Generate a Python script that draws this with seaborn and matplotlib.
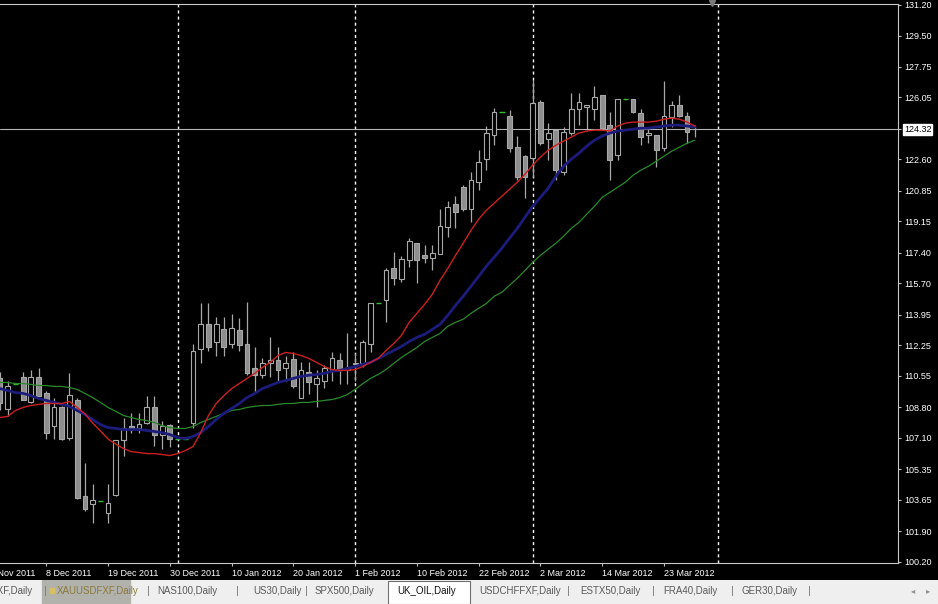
import numpy as np
import pandas as pd
import matplotlib
matplotlib.use("Agg")
import matplotlib.pyplot as plt
from matplotlib.patches import Rectangle
import seaborn as sns

# --- UK_OIL daily candles (bar 0 = left edge of chart) ---
opens = [110.41, 108.73, 110.07, 110.46, 109.07, 110.46, 109.62, 107.78, 108.79, 107.11,
         109.23, 103.88, 103.43, 103.60, 102.93, 103.94, 106.95, 107.78, 107.62, 107.95,
         108.79, 107.28, 107.84, 107.06, 107.06, 107.95, 112.02, 113.42, 112.41, 113.14,
         112.35, 113.08, 112.35, 110.96, 110.58, 111.24, 111.41, 110.96, 111.47, 109.34,
         110.74, 110.12, 110.29, 110.85, 111.41, 110.85, 111.19, 111.24, 112.35, 114.58,
         114.75, 116.53, 115.92, 116.98, 117.93, 117.26, 117.09, 117.32, 118.83, 120.11,
         121.05, 119.83, 121.33, 122.61, 123.95, 125.23, 125.01, 123.28, 122.78, 122.67,
         125.79, 123.73, 124.23, 121.89, 124.07, 125.40, 125.51, 125.40, 126.18, 124.51,
         122.84, 125.96, 125.96, 125.17, 123.95, 123.95, 123.22, 124.96, 125.62, 125.01,
         124.28]
highs = [110.74, 110.29, 110.07, 110.74, 110.85, 110.96, 109.68, 109.29, 108.85, 110.69,
         109.29, 105.72, 104.55, 103.60, 104.55, 107.00, 108.18, 108.46, 108.46, 109.45,
         109.45, 108.01, 107.89, 107.06, 107.06, 112.35, 114.58, 114.58, 113.80, 113.80,
         113.97, 113.75, 114.64, 112.13, 111.52, 112.69, 112.13, 111.68, 111.85, 111.30,
         111.30, 110.90, 111.13, 111.85, 111.80, 112.92, 111.80, 112.52, 114.58, 114.58,
         116.53, 117.43, 117.21, 118.21, 117.93, 117.82, 117.82, 119.83, 120.27, 120.55,
         121.16, 121.89, 123.11, 124.46, 125.45, 125.23, 125.34, 123.90, 122.84, 127.02,
         125.90, 124.62, 124.23, 124.40, 126.30, 126.30, 125.62, 126.68, 126.18, 125.23,
         125.96, 125.96, 125.96, 125.40, 124.40, 123.95, 126.96, 125.84, 126.18, 125.23,
         124.51]
lows = [108.62, 108.34, 110.07, 109.18, 109.01, 109.40, 107.06, 107.06, 106.95, 106.95,
        103.71, 103.04, 102.38, 103.60, 102.33, 103.88, 106.11, 107.39, 107.34, 107.89,
        106.67, 106.45, 106.56, 107.06, 107.06, 107.67, 111.24, 111.96, 111.68, 111.68,
        112.08, 111.96, 110.58, 109.62, 110.41, 110.46, 110.29, 110.29, 109.90, 109.34,
        109.56, 108.79, 109.90, 110.29, 110.12, 110.12, 110.29, 111.02, 111.85, 114.58,
        113.53, 115.59, 115.76, 116.59, 115.70, 116.81, 116.42, 117.32, 118.27, 118.76,
        119.72, 119.10, 120.89, 122.00, 123.39, 125.23, 122.99, 121.44, 120.44, 121.61,
        123.39, 122.56, 121.44, 121.72, 123.95, 124.51, 124.23, 124.79, 124.23, 121.44,
        122.56, 125.96, 125.17, 123.39, 123.50, 122.17, 123.06, 124.40, 124.96, 123.50,
        123.84]
closes = [109.01, 110.01, 110.07, 109.23, 110.46, 109.45, 107.34, 108.79, 107.06, 109.51,
          103.77, 103.15, 103.66, 103.60, 103.49, 107.00, 107.67, 107.62, 107.89, 108.79,
          107.28, 107.73, 107.06, 107.06, 107.06, 111.96, 113.42, 112.13, 113.42, 112.13,
          113.20, 112.24, 110.69, 110.58, 111.24, 111.41, 110.85, 111.24, 110.01, 110.85,
          110.18, 110.41, 110.96, 111.57, 110.85, 110.96, 111.24, 112.41, 114.58, 114.58,
          116.42, 115.98, 117.04, 118.04, 116.98, 117.09, 117.37, 118.88, 119.94, 119.66,
          119.83, 121.44, 122.45, 124.07, 125.23, 125.23, 123.22, 121.61, 121.61, 125.73,
          123.50, 124.07, 122.00, 124.12, 125.40, 125.79, 125.62, 126.07, 124.34, 122.56,
          125.96, 125.96, 125.23, 123.84, 124.07, 123.11, 125.01, 125.62, 125.01, 124.12,
          124.32]

# --- moving averages ---
ma_red = [108.23, 108.29, 108.62, 108.79, 108.90, 108.96, 109.01, 109.01, 109.01, 109.12,
          108.79, 108.43, 107.92, 107.48, 107.03, 106.75, 106.50, 106.33, 106.28, 106.22,
          106.22, 106.17, 106.11, 106.22, 106.39, 106.61, 107.39, 108.34, 109.01, 109.45,
          109.84, 110.12, 110.41, 110.69, 111.02, 111.30, 111.68, 111.85, 111.80, 111.68,
          111.52, 111.30, 111.07, 110.90, 110.85, 110.85, 110.90, 111.07, 111.30, 111.52,
          111.96, 112.35, 112.80, 113.53, 114.03, 114.53, 115.09, 115.87, 116.53, 117.26,
          117.93, 118.65, 119.27, 119.77, 120.16, 120.55, 120.94, 121.33, 121.78, 122.28,
          122.73, 123.11, 123.39, 123.62, 123.84, 124.07, 124.18, 124.23, 124.23, 124.18,
          124.46, 124.62, 124.68, 124.68, 124.68, 124.73, 124.84, 124.90, 124.84, 124.68,
          124.46]
ma_blue = [109.84, 109.73, 109.62, 109.57, 109.45, 109.29, 109.18, 109.07, 108.96, 108.85,
           108.62, 108.40, 108.12, 107.84, 107.67, 107.62, 107.56, 107.56, 107.56, 107.51,
           107.45, 107.39, 107.28, 107.11, 107.06, 107.17, 107.39, 107.73, 108.12, 108.46,
           108.73, 109.01, 109.34, 109.57, 109.84, 110.01, 110.18, 110.29, 110.41, 110.52,
           110.58, 110.63, 110.69, 110.80, 110.85, 110.96, 111.07, 111.19, 111.30, 111.52,
           111.74, 111.96, 112.19, 112.46, 112.69, 112.86, 113.14, 113.42, 113.92, 114.47,
           114.98, 115.53, 116.09, 116.65, 117.15, 117.65, 118.21, 118.76, 119.38, 119.99,
           120.49, 120.99, 121.67, 122.22, 122.61, 122.95, 123.34, 123.67, 123.90, 124.07,
           124.18, 124.23, 124.29, 124.34, 124.34, 124.40, 124.46, 124.51, 124.51, 124.46,
           124.40]
ma_green = [110.18, 110.18, 110.12, 110.12, 110.07, 110.01, 110.01, 109.96, 109.96, 109.90,
            109.79, 109.57, 109.34, 109.07, 108.79, 108.57, 108.34, 108.23, 108.12, 108.06,
            107.95, 107.78, 107.67, 107.62, 107.62, 107.73, 107.95, 108.12, 108.29, 108.46,
            108.62, 108.68, 108.79, 108.85, 108.90, 108.90, 108.96, 109.01, 109.01, 109.07,
            109.07, 109.12, 109.18, 109.23, 109.34, 109.51, 109.79, 110.12, 110.41, 110.63,
            110.90, 111.24, 111.57, 111.85, 112.13, 112.46, 112.69, 112.91, 113.31, 113.53,
            113.70, 114.03, 114.31, 114.58, 114.98, 115.20, 115.59, 115.98, 116.42, 116.87,
            117.26, 117.60, 117.93, 118.32, 118.76, 119.10, 119.55, 119.99, 120.49, 120.77,
            121.05, 121.33, 121.72, 122.00, 122.22, 122.50, 122.78, 123.06, 123.28, 123.50,
            123.67]

bid_price = 124.32

# price scale labels on the right
price_labels = ["131.20", "129.50", "127.75", "126.05", "124.32", "122.60", "120.85",
                "119.15", "117.40", "115.70", "113.95", "112.25", "110.55", "108.80",
                "107.10", "105.35", "103.65", "101.90", "100.20"]

# date labels (bar index of each label)
date_bars = [-2, 6, 14, 22, 30, 38, 46, 54, 62, 70, 78, 86]
date_labels = ["28 Nov 2011", "8 Dec 2011", "19 Dec 2011", "30 Dec 2011", "10 Jan 2012",
               "20 Jan 2012", "1 Feb 2012", "10 Feb 2012", "22 Feb 2012", "2 Mar 2012",
               "14 Mar 2012", "23 Mar 2012"]

# monthly period separators
month_starts = [23, 46, 69, 93]

# terminal tabs along the bottom
tab_names = ["GBPUSDFXF,Daily", "XAUUSDFXF,Daily", "NAS100,Daily", "US30,Daily",
             "SPX500,Daily", "UK_OIL,Daily", "USDCHFFXF,Daily", "ESTX50,Daily",
             "FRA40,Daily", "GER30,Daily"]

W, H = 938, 604
BAR_PX = 7.72

sns.set_theme(style="dark")
plt.rcParams['font.family'] = ['Liberation Sans', 'DejaVu Sans']

fig = plt.figure(figsize=(W / 100, H / 100), dpi=100, facecolor='black')
ax_top, ax_bot, ax_right = 3.5, 563, 898
ax = fig.add_axes([0, (H - ax_bot) / H, ax_right / W, (ax_bot - ax_top) / H])
ax.set_facecolor('black')
ax.grid(False)

df = pd.DataFrame({'bar': np.arange(len(opens)), 'open': opens, 'high': highs,
                   'low': lows, 'close': closes, 'red': ma_red, 'blue': ma_blue,
                   'green': ma_green})

wick_col = '#a8a8a8'
bear_fill = '#8e8e8e'
doji_col = '#2fbf2f'

# separators behind everything
for m in month_starts:
    ax.axvline(m, color='white', lw=1.0, ls=(0, (2.2, 2.2)), zorder=1)

is_doji = df['open'] == df['close']
body = df[~is_doji]
ax.vlines(body['bar'], body['low'], body['high'], color=wick_col, lw=0.9, zorder=2)
bull = body[body['close'] > body['open']]
bear = body[body['close'] < body['open']]
ax.bar(bull['bar'], bull['close'] - bull['open'], bottom=bull['open'], width=0.62,
       facecolor='black', edgecolor=wick_col, linewidth=0.8, zorder=3)
ax.bar(bear['bar'], bear['open'] - bear['close'], bottom=bear['close'], width=0.62,
       facecolor=bear_fill, edgecolor=wick_col, linewidth=0.8, zorder=3)
dj = df[is_doji]
ax.hlines(dj['close'], dj['bar'] - 0.35, dj['bar'] + 0.35, color=doji_col, lw=1.0, zorder=3)

ax.axhline(bid_price, color='#b4b4b4', lw=0.8, zorder=2.5)

sns.lineplot(data=df, x='bar', y='green', color='#2a8a2a', lw=0.9, ax=ax, zorder=4, legend=False)
sns.lineplot(data=df, x='bar', y='blue', color='#1c1c7c', lw=2.0, ax=ax, zorder=4, legend=False)
sns.lineplot(data=df, x='bar', y='red', color='#cc2020', lw=1.0, ax=ax, zorder=5, legend=False)

ax.set_xlim(0, ax_right / BAR_PX)
ax.set_ylim(100.20 - 1.3 / 17.96, 131.20 + 1.5 / 17.96)
ax.set_xlabel('')
ax.set_ylabel('')

# right price scale
ax.yaxis.tick_right()
ax.set_yticks([float(p) for p in price_labels], price_labels)
ax.tick_params(axis='y', which='both', right=True, left=False, length=2.2, width=0.8,
               color='#c0c0c0', labelcolor='white', labelsize=6.5, pad=2)
for lab in ax.get_yticklabels():
    if lab.get_text() == f"{bid_price:.2f}":
        lab.set_color('black')
        lab.set_bbox(dict(facecolor='white', edgecolor='white', pad=0.8))

# date axis
ax.set_xticks(date_bars[1:], date_labels[1:])
ax.tick_params(axis='x', bottom=True, length=2.5, width=0.8, color='#c0c0c0',
               labelcolor='white', labelsize=6.5, pad=1.5)
for lab in ax.get_xticklabels():
    lab.set_ha('left')
ax.annotate(date_labels[0], xy=(date_bars[0], 0), xycoords=('data', 'axes fraction'),
            xytext=(0, -4), textcoords='offset points', ha='left', va='top',
            color='white', fontsize=6.5, annotation_clip=False)

ax.spines['left'].set_visible(False)
for s in ['top', 'right', 'bottom']:
    ax.spines[s].set_color('#c8c8c8')
    ax.spines[s].set_linewidth(0.8)

# chart shift marker
fig.add_artist(plt.Line2D([712 / W], [1 - 2.5 / H], marker='v', ms=5, color='#7a7a7a',
                          transform=fig.transFigure))

# --- tab strip ---
tab = fig.add_axes([0, 0, 1, 24 / H])
tab.set_xlim(0, W)
tab.set_ylim(24, 0)
tab.set_axis_off()
tab.add_patch(Rectangle((0, 0), W, 24, color='#efefef'))
tab.add_patch(Rectangle((42, 0), 88, 24, color='#b2b2ac'))
tab.add_patch(Rectangle((50, 8), 4, 5, color='#d8c060'))
tab.add_patch(Rectangle((388, 0.5), 82, 23, facecolor='white', edgecolor='#707070', lw=0.8))

tab_x = [33, 57, 157, 253, 315, 397, 479, 580, 663, 742]
for i, (name, tx) in enumerate(zip(tab_names, tab_x)):
    col = '#111111' if name == "UK_OIL,Daily" else '#5a5a5a'
    if i == 1:
        col = '#8a7a3c'
    tab.text(tx, 11.5, name, ha='right' if i == 0 else 'left', va='center',
             fontsize=7, color=col)
for sx in [45, 148, 237, 306, 568, 653, 732, 809]:
    tab.text(sx, 11.5, '|', ha='center', va='center', fontsize=8, color='#7a7a7a')
tab.text(913, 11.5, '◂', ha='center', va='center', fontsize=6, color='#909090')
tab.text(928, 11.5, '▸', ha='center', va='center', fontsize=6, color='#909090')

fig.savefig('out.png', dpi=100, facecolor='black')
